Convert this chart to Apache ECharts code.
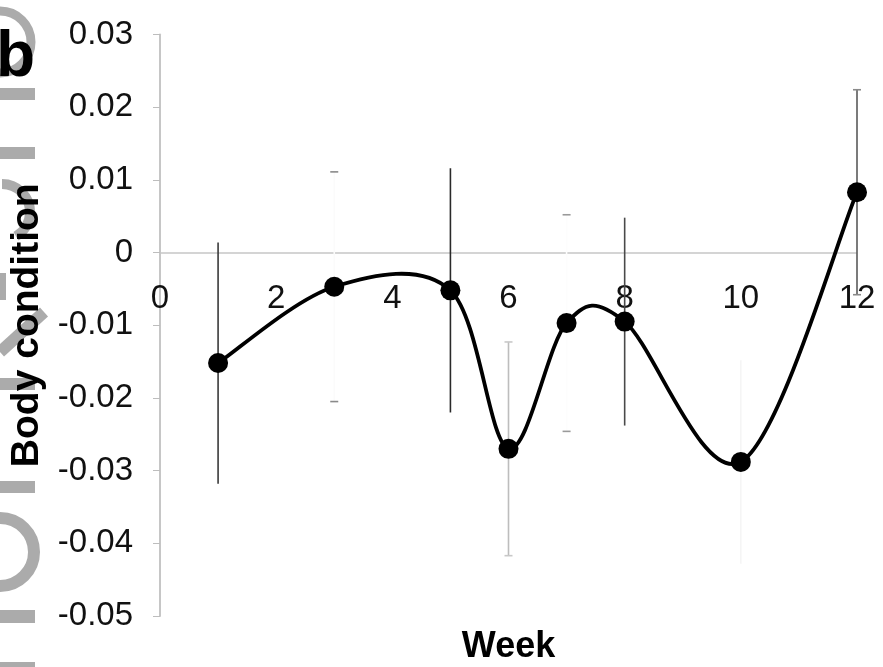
<!DOCTYPE html>
<html>
<head>
<meta charset="utf-8">
<script src="https://cdn.jsdelivr.net/npm/echarts@6/dist/echarts.min.js"></script>
<style>
  html, body { margin: 0; padding: 0; background: #fff; }
  #chart { width: 883px; height: 667px; }
</style>
</head>
<body>
<div id="chart"></div>
<script>
// Mean body condition per sampling week, with error half-widths
const weeks = [1, 3, 5, 6, 7, 8, 10, 12];
const bodyCondition = [-0.0152, -0.0047, -0.0052, -0.0270, -0.0097, -0.0095, -0.0288, 0.0083];
const errorHalfWidth = [0.0166, 0.0158, 0.0168, 0.0147, 0.0149, 0.0143, 0.0140, 0.0141];

// Axis ranges
const weekMin = 0, weekMax = 12, weekStep = 2;
const bcMin = -0.05, bcMax = 0.03, bcStep = 0.01;

// Shade of each error bar (stem, cap) — some are printed very faintly
const barShade = {
  1:  { stem: '#3a3a3a', cap: null },
  3:  { stem: '#fbfbfb', cap: '#8a8a8a' },
  5:  { stem: '#2a2a2a', cap: null },
  6:  { stem: '#bdbdbd', cap: '#c8c8c8' },
  7:  { stem: '#fdfdfd', cap: '#9a9a9a' },
  8:  { stem: '#4a4a4a', cap: null },
  10: { stem: '#f5f5f5', cap: null },
  12: { stem: '#5a5a5a', cap: '#8a8a8a' }
};

const linePoints = weeks.map((w, i) => [w, bodyCondition[i]]);
const errorRows = weeks.map((w, i) => [w, bodyCondition[i], errorHalfWidth[i]]);

const FONT = '"Liberation Sans", Arial, Helvetica, sans-serif';
const GREY = '#ababab';
const TENSION = 1 / 6; // Catmull-Rom style smoothing between markers

// Faint grey lettering bleeding in along the left margin
const marginMarks = [
  { type: 'arc', shape: { cx: 0, cy: 42, r: 31, startAngle: -Math.PI / 2, endAngle: Math.PI / 2 } , style: { stroke: GREY, lineWidth: 9, fill: null } },
  { type: 'rect', shape: { x: 0, y: 88, width: 35, height: 12 }, style: { fill: GREY } },
  { type: 'rect', shape: { x: 0, y: 147, width: 35, height: 12 }, style: { fill: GREY } },
  { type: 'arc', shape: { cx: 2, cy: 212, r: 28, startAngle: -Math.PI / 2, endAngle: Math.PI / 3 }, style: { stroke: GREY, lineWidth: 10, fill: null } },
  { type: 'rect', shape: { x: 0, y: 273, width: 6, height: 27 }, style: { fill: GREY } },
  { type: 'polyline', shape: { points: [[44, 312], [0, 352]] }, style: { stroke: GREY, lineWidth: 12, fill: null } },
  { type: 'rect', shape: { x: 0, y: 378, width: 35, height: 12 }, style: { fill: GREY } },
  { type: 'rect', shape: { x: 0, y: 481, width: 35, height: 12 }, style: { fill: GREY } },
  { type: 'arc', shape: { cx: 0, cy: 552, r: 34, startAngle: -Math.PI / 2, endAngle: Math.PI / 2 }, style: { stroke: GREY, lineWidth: 12, fill: null } },
  { type: 'rect', shape: { x: 0, y: 610, width: 35, height: 13 }, style: { fill: GREY } },
  { type: 'rect', shape: { x: 0, y: 662, width: 35, height: 6 }, style: { fill: GREY } }
].map(el => Object.assign({ z: -10, silent: true }, el));

const chart = echarts.init(document.getElementById('chart'), null, { renderer: 'canvas' });

chart.setOption({
  backgroundColor: '#ffffff',
  animation: false,
  textStyle: { fontFamily: FONT },
  grid: { left: 160, right: 26, top: 34.5, bottom: 51, containLabel: false, outerBoundsMode: 'none' },
  graphic: marginMarks.concat([
    {
      type: 'text', x: -4, y: 58, z: 10,
      style: { text: 'b', font: 'bold 64px ' + FONT, fill: '#000', textVerticalAlign: 'middle' }
    }
  ]),
  xAxis: {
    type: 'value',
    position: 'bottom',
    min: weekMin, max: weekMax, interval: weekStep,
    axisLine: { show: false, onZero: false },
    axisTick: { show: false },
    splitLine: { show: false },
    // tick labels sit just under the zero line
    axisLabel: { color: '#111', fontSize: 33, margin: -334, fontFamily: FONT },
    name: 'Week',
    nameLocation: 'middle',
    nameGap: 13,
    nameTextStyle: { fontSize: 36, fontWeight: 'bold', color: '#000', fontFamily: FONT, verticalAlign: 'top' }
  },
  yAxis: {
    type: 'value',
    min: bcMin, max: bcMax, interval: bcStep,
    axisLine: { show: true, lineStyle: { color: '#c6c6c6', width: 2 } },
    axisTick: { show: true, length: 7, lineStyle: { color: '#bdbdbd' } },
    splitLine: { show: false },
    axisLabel: {
      color: '#111', fontSize: 33, margin: 27, fontFamily: FONT,
      formatter: v => (Math.abs(v) < 1e-9 ? '0' : v.toFixed(2))
    },
    name: 'Body condition',
    nameLocation: 'middle',
    nameGap: 107,
    nameTextStyle: { fontSize: 39, fontWeight: 'bold', color: '#000', fontFamily: FONT }
  },
  series: [
    {
      // vertical error bars
      type: 'custom',
      name: 'error',
      z: 1,
      data: errorRows,
      encode: { x: 0, y: 1 },
      renderItem: (params, api) => {
        const w = api.value(0), m = api.value(1), e = api.value(2);
        const top = api.coord([w, m + e]);
        const bot = api.coord([w, m - e]);
        const shade = barShade[w];
        const children = [{
          type: 'line',
          shape: { x1: top[0], y1: top[1], x2: bot[0], y2: bot[1] },
          style: { stroke: shade.stem, lineWidth: 1.6 }
        }];
        if (shade.cap) {
          [top, bot].forEach(p => children.push({
            type: 'line',
            shape: { x1: p[0] - 4, y1: p[1], x2: p[0] + 4, y2: p[1] },
            style: { stroke: shade.cap, lineWidth: 1.6 }
          }));
        }
        return { type: 'group', children };
      }
    },
    {
      // smoothed connecting curve: each point draws the segment to the next one
      type: 'custom',
      name: 'curve',
      z: 2,
      data: linePoints,
      encode: { x: 0, y: 1 },
      renderItem: (params, api) => {
        const i = params.dataIndex;
        const n = linePoints.length;
        if (i >= n - 1) return null;
        const pt = k => api.coord(linePoints[Math.max(0, Math.min(n - 1, k))]);
        const p0 = pt(i - 1), p1 = pt(i), p2 = pt(i + 1), p3 = pt(i + 2);
        return {
          type: 'bezierCurve',
          shape: {
            x1: p1[0], y1: p1[1],
            cpx1: p1[0] + (p2[0] - p0[0]) * TENSION,
            cpy1: p1[1] + (p2[1] - p0[1]) * TENSION,
            cpx2: p2[0] - (p3[0] - p1[0]) * TENSION,
            cpy2: p2[1] - (p3[1] - p1[1]) * TENSION,
            x2: p2[0], y2: p2[1]
          },
          style: { stroke: '#000', lineWidth: 3.8, fill: null }
        };
      }
    },
    {
      // markers, plus the zero reference line
      type: 'line',
      name: 'Body condition',
      z: 3,
      data: linePoints,
      symbol: 'circle',
      symbolSize: 20,
      itemStyle: { color: '#000' },
      lineStyle: { width: 0, opacity: 0 },
      markLine: {
        silent: true,
        symbol: 'none',
        label: { show: false },
        lineStyle: { color: '#c6c6c6', width: 1.5, type: 'solid' },
        data: [{ yAxis: 0 }],
        z: 0
      }
    }
  ]
});
</script>
</body>
</html>
